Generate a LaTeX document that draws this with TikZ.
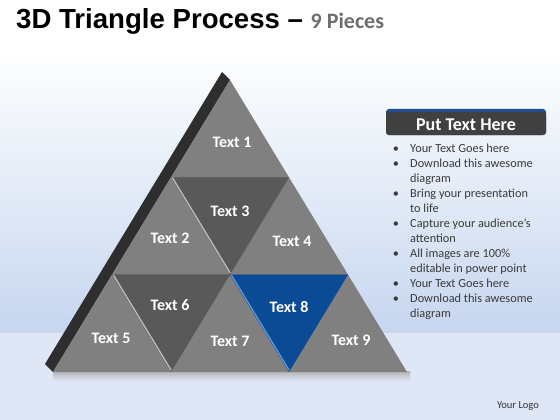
\documentclass[tikz,border=0pt]{standalone}
\usepackage{fontspec}
\usetikzlibrary{calc}
\setmainfont{Carlito}
\newfontfamily\arialfont{Liberation Sans}
\definecolor{tilelight}{HTML}{808080}
\definecolor{tiledark}{HTML}{595959}
\definecolor{tileblue}{HTML}{0B4A94}
\definecolor{bluehi}{HTML}{5A9BE0}
\definecolor{strip}{HTML}{2E2E2E}
\definecolor{skyblue}{HTML}{C6D6EF}
\definecolor{floorblue}{HTML}{DFE7F6}
\definecolor{headgray}{HTML}{404040}
\definecolor{headblue}{HTML}{1F4F8F}
\definecolor{bodytext}{HTML}{3A3A3A}
\definecolor{titlegray}{HTML}{6E6E6E}
\tikzset{
  lbl/.style={inner sep=0pt, text=white, font=\fontsize{16}{19}\selectfont\bfseries},
  bullettext/.style={inner sep=0pt, anchor=base west, text=bodytext, font=\fontsize{12.3}{15}\selectfont},
  bulletdot/.style={inner sep=0pt, anchor=base, text=bodytext, font=\fontsize{12.3}{15}\selectfont},
  hiline/.style={line width=1.3pt, line cap=round}
}
\begin{document}
\begin{tikzpicture}[x=1pt,y=-1pt]
\useasboundingbox (0,0) rectangle (560,420);
% background
\fill[white] (0,0) rectangle (560,50);
\shade[top color=white, bottom color=skyblue] (0,50) rectangle (560,334);
\fill[floorblue] (0,333) rectangle (560,420);
% shadow under pyramid
\shade[top color=black!30, bottom color=floorblue] (53,371) rectangle (410,381);
% coordinates
\coordinate (A) at (230,80);
\coordinate (B1) at (171,177.3);
\coordinate (B2) at (289,177.3);
\coordinate (C1) at (112,274.7);
\coordinate (C2) at (230,274.7);
\coordinate (C3) at (348,274.7);
\coordinate (D1) at (53,372);
\coordinate (D2) at (171,372);
\coordinate (D3) at (289,372);
\coordinate (D4) at (407,372);
% dark side strip
\fill[strip] (A) -- (222,72) -- (45,364) -- (D1) -- cycle;
% base tiles
\fill[tilelight] (A) -- (D1) -- (D4) -- cycle;
% row separators (subtle)
\draw[black!55, line width=0.6pt] (B1) -- (B2);
\draw[black!55, line width=0.6pt] (C1) -- (C3);
% inverted tiles
\fill[tiledark] (B1) -- (B2) -- (C2) -- cycle;
\fill[tiledark] (C1) -- (C2) -- (D2) -- cycle;
\fill[tileblue] (C2) -- (C3) -- (D3) -- cycle;
% bevel highlights
\draw[hiline, black!25] ($(B1)+(1.5,0.5)$) -- ($(C2)+(0,-2)$);
\draw[hiline, black!25] ($(C1)+(1.5,0.5)$) -- ($(D2)+(0,-2)$);
\draw[hiline, bluehi] ($(C2)+(1.5,0.5)$) -- ($(D3)+(0,-2)$);
% labels
\node[lbl] (t1) at (232,142) {Text 1};
\node[lbl] (t2) at (170,238) {Text 2};
\node[lbl] (t3) at (230,211) {Text 3};
\node[lbl] (t4) at (292,241) {Text 4};
\node[lbl] (t5) at (111,338) {Text 5};
\node[lbl] (t6) at (170,305) {Text 6};
\node[lbl] (t7) at (230,341) {Text 7};
\node[lbl] (t8) at (289,307) {Text 8};
\node[lbl] (t9) at (351,340) {Text 9};
% title
\node[inner sep=0pt, anchor=base west] (title) at (16,29)
  {\fontsize{27.6}{31}\selectfont\arialfont\bfseries 3D Triangle Process \textcolor{black}{–} \fontspec{Carlito}\bfseries\fontsize{22}{26}\selectfont\textcolor{titlegray}{9 Pieces}};
% header box
\fill[headblue, rounded corners=3pt] (386,109) rectangle (546,135);
\fill[headgray, rounded corners=3pt] (386,112) rectangle (546,135);
\node[inner sep=0pt, text=white, font=\fontsize{18}{21}\selectfont\bfseries] (head) at (466,124.5) {Put Text Here};
% bullets
\node[bulletdot] (d1) at (396,152) {•};
\node[bulletdot] (d2) at (396,167) {•};
\node[bulletdot] (d3) at (396,197) {•};
\node[bulletdot] (d4) at (396,227) {•};
\node[bulletdot] (d5) at (396,257) {•};
\node[bulletdot] (d6) at (396,287) {•};
\node[bulletdot] (d7) at (396,302) {•};
\node[bullettext] (l1) at (410,152) {Your Text Goes here};
\node[bullettext] (l2) at (410,167) {Download this awesome};
\node[bullettext] (l3) at (410,182) {diagram};
\node[bullettext] (l4) at (410,197) {Bring your presentation};
\node[bullettext] (l5) at (410,212) {to life};
\node[bullettext] (l6) at (410,227) {Capture your audience’s};
\node[bullettext] (l7) at (410,242) {attention};
\node[bullettext] (l8) at (410,257) {All images are 100\%};
\node[bullettext] (l9) at (410,272) {editable in power point};
\node[bullettext] (l10) at (410,287) {Your Text Goes here};
\node[bullettext] (l11) at (410,302) {Download this awesome};
\node[bullettext] (l12) at (410,317) {diagram};
% logo
\node[inner sep=0pt, text=black!80, font=\fontsize{10.5}{12}\selectfont] (logo) at (518,406) {Your Logo};
\end{tikzpicture}
\end{document}
